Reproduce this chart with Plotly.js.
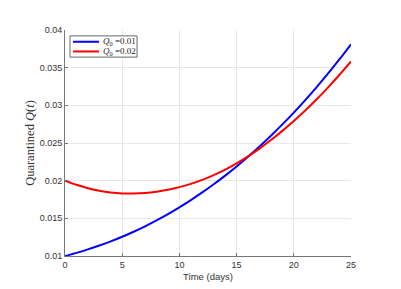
<!DOCTYPE html>
<html>
<head>
<meta charset="utf-8">
<script src="https://cdn.plot.ly/plotly-3.0.1.min.js"></script>
<style>
  html, body { margin: 0; padding: 0; background: #fff; }
  #chart { width: 401px; height: 289px; }
</style>
</head>
<body>
<div id="chart"></div>
<script>
// days on the x axis
const days = [0, 1, 2, 3, 4, 5, 6, 7, 8, 9, 10, 11, 12, 13, 14, 15, 16, 17, 18, 19, 20, 21, 22, 23, 24, 25];

// Q(t), one value per day
const q001 = [0.01000, 0.01042, 0.01088, 0.01139, 0.01194, 0.01255, 0.01322, 0.01394, 0.01472, 0.01556,
              0.01646, 0.01742, 0.01844, 0.01952, 0.02067, 0.02189, 0.02318, 0.02454, 0.02597, 0.02747,
              0.02904, 0.03070, 0.03243, 0.03423, 0.03612, 0.03810];
const q002 = [0.02000, 0.01945, 0.01900, 0.01866, 0.01843, 0.01831, 0.01829, 0.01836, 0.01853, 0.01879,
              0.01914, 0.01958, 0.02011, 0.02074, 0.02147, 0.02230, 0.02323, 0.02426, 0.02539, 0.02661,
              0.02792, 0.02932, 0.03081, 0.03239, 0.03406, 0.03582];

const seriesNames = ["<i>Q</i><sub>0</sub> =0.01", "<i>Q</i><sub>0</sub> =0.02"];
const seriesColors = ["#0000ff", "#ff0000"];
const xTicks = [0, 5, 10, 15, 20, 25];
const yTicks = [0.01, 0.015, 0.02, 0.025, 0.03, 0.035, 0.04];

const traces = [q001, q002].map((q, i) => ({
  x: days, y: q, type: "scatter", mode: "lines", name: seriesNames[i],
  line: { color: seriesColors[i], width: 2, shape: "spline" }
}));

// legend drawn by hand: plotly's own rows are too tall for this box
const serif = "Liberation Serif, Times New Roman, serif";
const sans = "Liberation Sans, Arial, sans-serif";
const legendRows = [0.948, 0.905];
const shapes = [{
  type: "rect", xref: "paper", yref: "paper",
  x0: 0.0175, x1: 0.252, y0: 0.880, y1: 0.974,
  line: { color: "#666", width: 1 }, fillcolor: "#fff", layer: "above"
}];
const annotations = [];
legendRows.forEach((yy, i) => {
  shapes.push({
    type: "line", xref: "paper", yref: "paper",
    x0: 0.028, x1: 0.119, y0: yy, y1: yy,
    line: { color: seriesColors[i], width: 2 }, layer: "above"
  });
  annotations.push({
    xref: "paper", yref: "paper", x: 0.127, y: yy,
    xanchor: "left", yanchor: "middle", showarrow: false,
    text: seriesNames[i],
    font: { family: serif, size: 9, color: "#222" }
  });
});

const axisCommon = {
  showline: true,
  linecolor: "#777",
  linewidth: 1,
  showgrid: true,
  gridcolor: "#e8e8e8",
  gridwidth: 1,
  zeroline: false,
  ticks: "inside",
  ticklen: 3,
  tickcolor: "#777",
  tickfont: { family: sans, size: 9, color: "#333" }
};

const layout = {
  width: 401,
  height: 289,
  margin: { l: 65, r: 50, t: 30, b: 33 },
  paper_bgcolor: "#fff",
  plot_bgcolor: "#fff",
  showlegend: false,
  shapes: shapes,
  annotations: annotations,
  xaxis: Object.assign({}, axisCommon, {
    range: [0, 25],
    tickvals: xTicks,
    ticktext: xTicks.map(String),
    title: { text: "Time (days)", standoff: 4, font: { family: sans, size: 9.5, color: "#333" } }
  }),
  yaxis: Object.assign({}, axisCommon, {
    range: [0.01, 0.04],
    tickvals: yTicks,
    ticktext: yTicks.map(String),
    title: { text: "Quarantined <i>Q</i>(<i>t</i>)", standoff: 2, font: { family: serif, size: 12.5, color: "#333" } }
  })
};

Plotly.newPlot("chart", traces, layout, { displayModeBar: false, staticPlot: true });
</script>
</body>
</html>
